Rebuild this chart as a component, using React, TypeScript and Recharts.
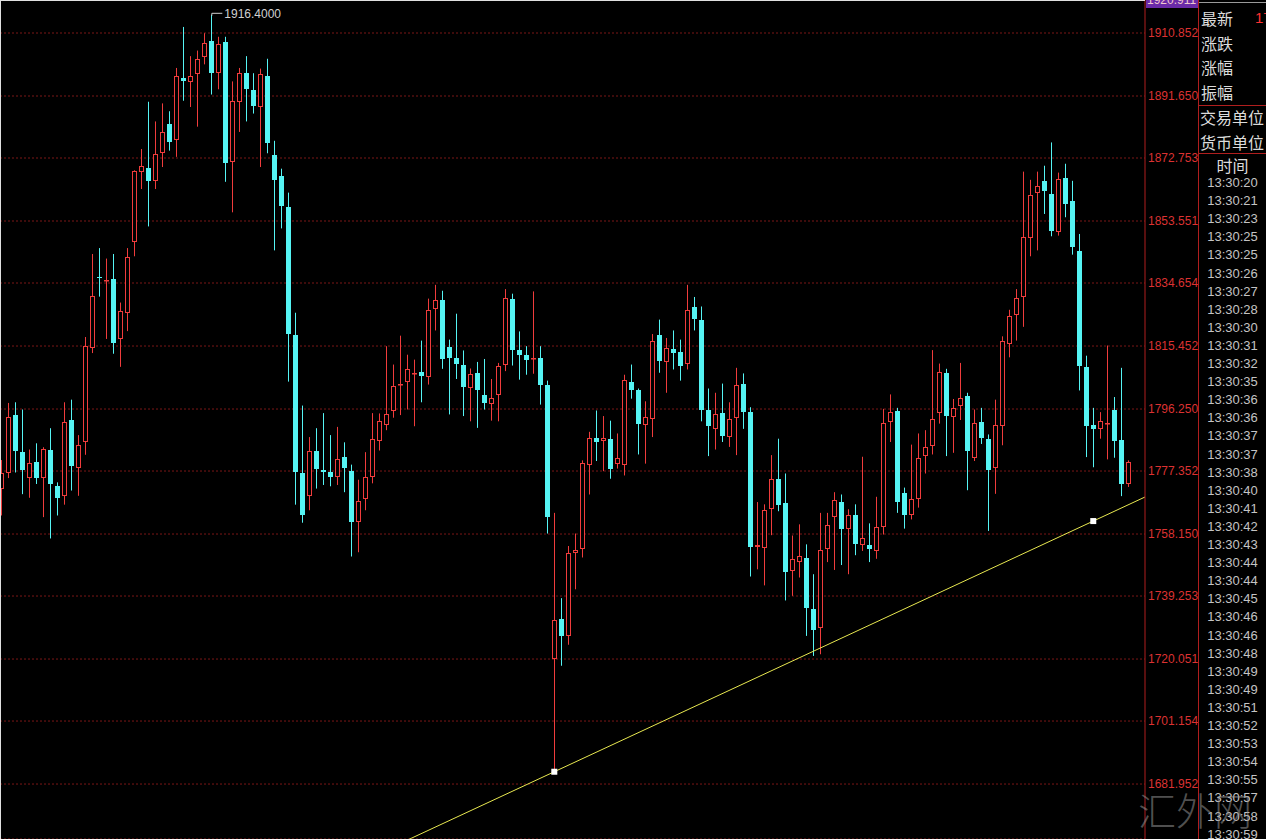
import React from 'react';
import {
  ComposedChart,
  Bar,
  XAxis,
  YAxis,
  CartesianGrid,
  ReferenceLine,
  ReferenceDot,
} from 'recharts';

// candle values, one entry per bar (left to right)
const opens = [
  1771.8, 1776.9, 1794.3, 1783.2, 1775.2, 1780.1, 1775.2, 1783.9, 1772.7, 1769.6,
  1792.9, 1778.3, 1786.1, 1814.9, 1836.5, 1835.2, 1835.9, 1817.6, 1825.6, 1847.2,
  1868.4, 1869.8, 1865.7, 1874.2, 1883.1, 1878.2, 1897.2, 1895.9, 1898.3, 1903.5,
  1908.4, 1898.8, 1908.2, 1871.4, 1889.7, 1898.6, 1893.5, 1888.3, 1897.8, 1873.6,
  1867.3, 1857.8, 1818.7, 1776.9, 1769.6, 1783.6, 1777.6, 1777.2, 1775.6, 1781.7,
  1777.4, 1761.9, 1768.7, 1775.6, 1786.4, 1791.3, 1795.6, 1803.5, 1804.4, 1806.8,
  1807.6, 1806.0, 1826.7, 1829.6, 1815.2, 1811.8, 1809.8, 1802.7, 1807.2, 1800.5,
  1797.8, 1800.4, 1809.8, 1829.9, 1814.1, 1812.8, 1811.4, 1811.8, 1803.7, 1720.2,
  1732.2, 1727.1, 1752.5, 1753.7, 1779.2, 1787.5, 1786.5, 1787.2, 1779.6, 1779.2,
  1804.5, 1801.9, 1791.3, 1793.3, 1818.9, 1810.6, 1814.4, 1813.6, 1810.0, 1827.4,
  1823.5, 1795.8, 1790.2, 1795.1, 1787.7, 1793.6, 1803.9, 1795.4, 1754.3, 1754.0,
  1765.7, 1774.8, 1767.5, 1746.9, 1749.7, 1750.7, 1735.2, 1729.6, 1753.7, 1763.4,
  1768.0, 1759.8, 1764.1, 1754.8, 1754.7, 1753.0, 1760.4, 1792.2, 1795.6, 1770.7,
  1763.8, 1768.9, 1781.9, 1784.9, 1794.9, 1807.1, 1793.8, 1797.1, 1800.2, 1781.2,
  1792.3, 1787.0, 1778.3, 1791.0, 1816.1, 1824.8, 1830.4, 1848.4, 1862.1, 1865.8,
  1861.8, 1850.1, 1866.6, 1859.7, 1844.5, 1809.1, 1791.5, 1790.2, 1791.9, 1795.8,
  1786.7, 1773.5,
];
const highs = [
  1780.7, 1798.1, 1798.3, 1796.1, 1783.9, 1785.8, 1784.6, 1790.4, 1773.9, 1798.3,
  1799.1, 1788.3, 1818.2, 1843.5, 1845.3, 1842.1, 1843.5, 1828.7, 1845.3, 1869.0,
  1875.5, 1889.9, 1883.9, 1889.4, 1887.0, 1900.2, 1912.7, 1903.8, 1905.5, 1910.8,
  1916.4, 1909.7, 1909.7, 1896.1, 1900.2, 1903.8, 1898.6, 1900.0, 1903.0, 1878.0,
  1869.5, 1862.2, 1825.6, 1797.3, 1787.7, 1790.4, 1795.0, 1788.3, 1790.8, 1786.1,
  1779.3, 1774.7, 1783.1, 1795.0, 1794.9, 1815.4, 1809.8, 1818.6, 1812.8, 1811.3,
  1817.1, 1829.9, 1834.1, 1832.3, 1817.4, 1825.3, 1814.1, 1808.6, 1810.6, 1811.5,
  1805.4, 1810.3, 1832.8, 1831.4, 1819.9, 1815.4, 1832.1, 1815.4, 1804.9, 1764.6,
  1738.6, 1754.5, 1758.3, 1780.6, 1789.3, 1795.8, 1794.1, 1792.7, 1788.8, 1806.7,
  1809.8, 1802.5, 1798.6, 1819.1, 1823.5, 1817.9, 1820.2, 1817.4, 1834.1, 1830.4,
  1827.5, 1802.5, 1801.2, 1804.0, 1798.3, 1808.8, 1807.1, 1796.8, 1767.9, 1767.2,
  1782.2, 1787.2, 1776.6, 1757.7, 1761.1, 1755.0, 1745.9, 1764.6, 1764.6, 1770.9,
  1770.2, 1765.7, 1767.2, 1781.7, 1761.4, 1769.5, 1796.3, 1800.7, 1796.6, 1772.3,
  1785.4, 1788.8, 1789.8, 1814.2, 1810.1, 1808.5, 1799.3, 1810.3, 1801.2, 1796.1,
  1796.6, 1788.5, 1799.1, 1818.4, 1826.5, 1832.8, 1868.6, 1866.1, 1868.6, 1870.4,
  1877.5, 1868.3, 1871.0, 1865.8, 1849.6, 1812.5, 1796.6, 1795.3, 1815.6, 1799.9,
  1808.8, 1780.6,
];
const lows = [
  1763.8, 1775.2, 1776.9, 1770.3, 1769.2, 1773.4, 1763.3, 1756.8, 1763.8, 1767.1,
  1771.4, 1769.8, 1782.3, 1813.3, 1830.5, 1817.6, 1813.1, 1809.1, 1820.0, 1842.8,
  1863.3, 1851.9, 1863.3, 1870.0, 1875.0, 1873.1, 1890.2, 1888.3, 1882.3, 1901.3,
  1892.1, 1893.7, 1865.5, 1856.2, 1880.7, 1883.9, 1886.3, 1870.0, 1874.2, 1844.6,
  1851.3, 1804.6, 1767.1, 1761.6, 1765.4, 1772.0, 1773.1, 1772.7, 1773.1, 1770.9,
  1751.3, 1752.6, 1765.4, 1773.6, 1783.6, 1789.8, 1793.6, 1794.4, 1796.1, 1791.0,
  1798.3, 1803.7, 1820.2, 1808.5, 1794.6, 1805.4, 1794.1, 1792.5, 1790.5, 1796.1,
  1792.7, 1792.5, 1807.8, 1809.5, 1805.2, 1806.7, 1807.0, 1797.6, 1758.3, 1685.7,
  1718.0, 1724.4, 1741.3, 1751.0, 1770.2, 1780.4, 1777.3, 1775.0, 1778.1, 1776.0,
  1799.4, 1782.4, 1779.6, 1787.7, 1807.3, 1801.2, 1808.3, 1804.9, 1808.3, 1820.2,
  1792.5, 1781.9, 1783.9, 1786.2, 1784.7, 1782.2, 1790.2, 1745.2, 1747.4, 1742.5,
  1757.8, 1765.1, 1737.9, 1739.3, 1744.9, 1727.1, 1721.0, 1721.5, 1749.6, 1747.2,
  1748.7, 1745.9, 1751.7, 1753.0, 1749.6, 1750.6, 1758.0, 1786.2, 1764.6, 1759.8,
  1762.6, 1766.2, 1776.6, 1782.4, 1791.8, 1781.9, 1782.9, 1792.9, 1771.5, 1780.4,
  1785.6, 1759.1, 1770.4, 1785.2, 1812.0, 1817.1, 1821.3, 1842.8, 1844.6, 1855.7,
  1848.9, 1849.1, 1854.7, 1843.3, 1801.9, 1781.6, 1778.5, 1787.2, 1780.9, 1781.4,
  1769.7, 1772.5,
];
const closes = [
  1776.9, 1793.7, 1783.4, 1777.7, 1779.9, 1775.2, 1784.2, 1773.4, 1769.0, 1792.4,
  1778.8, 1785.3, 1815.5, 1830.7, 1836.1, 1835.6, 1816.3, 1826.1, 1842.6, 1868.7,
  1870.2, 1865.7, 1873.9, 1880.7, 1877.7, 1897.9, 1896.1, 1897.9, 1902.9, 1907.9,
  1898.8, 1907.5, 1871.1, 1890.1, 1898.6, 1893.7, 1888.6, 1898.4, 1877.2, 1866.2,
  1858.1, 1819.0, 1777.1, 1763.8, 1783.4, 1777.9, 1777.2, 1775.6, 1780.9, 1778.3,
  1761.9, 1768.2, 1775.4, 1787.2, 1792.5, 1794.8, 1803.4, 1803.9, 1808.3, 1807.2,
  1806.2, 1826.5, 1829.6, 1811.5, 1811.8, 1810.0, 1802.9, 1806.9, 1802.0, 1798.1,
  1799.6, 1809.3, 1830.1, 1814.2, 1812.8, 1811.3, 1811.8, 1803.7, 1763.3, 1731.9,
  1727.1, 1752.5, 1753.3, 1779.7, 1787.5, 1786.2, 1787.4, 1778.1, 1781.4, 1805.2,
  1802.0, 1791.8, 1793.8, 1817.1, 1810.8, 1814.7, 1813.4, 1809.5, 1826.5, 1823.8,
  1795.9, 1791.0, 1794.8, 1788.0, 1793.2, 1803.7, 1795.3, 1754.3, 1754.7, 1765.5,
  1775.0, 1766.9, 1746.6, 1750.4, 1751.4, 1735.5, 1728.9, 1753.2, 1760.8, 1768.5,
  1759.8, 1764.1, 1755.0, 1757.0, 1753.7, 1760.4, 1792.0, 1795.4, 1767.9, 1764.1,
  1768.7, 1781.4, 1784.7, 1793.1, 1807.6, 1794.1, 1796.6, 1799.6, 1783.4, 1792.0,
  1787.3, 1777.6, 1791.5, 1817.1, 1824.7, 1830.1, 1848.7, 1861.5, 1864.3, 1862.6,
  1850.4, 1866.3, 1858.8, 1845.5, 1809.3, 1791.0, 1790.2, 1792.6, 1792.1, 1786.5,
  1773.5, 1780.1,
];

const priceTicks = [
  1910.852, 1891.65, 1872.753, 1853.551, 1834.654, 1815.452, 1796.25,
  1777.352, 1758.15, 1739.253, 1720.051, 1701.154, 1681.952,
];
const topPrice = 1920.911;
const highestPrice = 1916.4;
const highestIndex = 30;

// two anchors of the hand-drawn trend line
const trendIndex = [79, 156];
const trendPrice = [1685.7, 1762.1];

const quoteLabels = ['最新', '涨跌', '涨幅', '振幅'];
const unitLabels = ['交易单位', '货币单位'];
const tradeTimes = [
  '13:30:20', '13:30:21', '13:30:23', '13:30:25', '13:30:25', '13:30:26', '13:30:27',
  '13:30:28', '13:30:30', '13:30:31', '13:30:32', '13:30:35', '13:30:36', '13:30:36',
  '13:30:37', '13:30:37', '13:30:38', '13:30:40', '13:30:41', '13:30:42', '13:30:43',
  '13:30:44', '13:30:44', '13:30:45', '13:30:46', '13:30:46', '13:30:48', '13:30:49',
  '13:30:49', '13:30:51', '13:30:52', '13:30:53', '13:30:54', '13:30:55', '13:30:57',
  '13:30:58', '13:30:59',
];

const candles = opens.map((o, i) => ({
  i,
  open: o,
  high: highs[i],
  low: lows[i],
  close: closes[i],
}));

const RED = '#f03c3c';
const CYAN = '#55f4f4';
const AXIS_RED = '#b01e1e';
const X_MIN = -0.19;
const X_MAX = 163.39;
const Y_MIN = 1665.2;

const slope = (trendPrice[1] - trendPrice[0]) / (trendIndex[1] - trendIndex[0]);
const trendSegment = [
  { x: X_MIN, y: trendPrice[0] + (X_MIN - trendIndex[0]) * slope },
  { x: X_MAX, y: trendPrice[0] + (X_MAX - trendIndex[0]) * slope },
];

function Candle(props: any) {
  const { x, y, width, height, payload } = props;
  if (!payload) return null;
  const { open, close, high, low } = payload;
  const top = Math.min(y, y + height);
  const bottom = Math.max(y, y + height);
  const ppu = (bottom - top) / (high - low || 1);
  const py = (v: number) => top + (high - v) * ppu;
  const up = close >= open;
  const color = up ? RED : CYAN;
  const cx = Math.floor(x + width / 2);
  const bTop = Math.round(py(Math.max(open, close)));
  const bBot = Math.max(Math.round(py(Math.min(open, close))), bTop + 1);
  const left = cx - 2;
  return (
    <g>
      <line x1={cx + 0.5} x2={cx + 0.5} y1={top} y2={bTop} stroke={color} strokeWidth={1} />
      <line x1={cx + 0.5} x2={cx + 0.5} y1={bBot} y2={bottom} stroke={color} strokeWidth={1} />
      {up ? (
        <rect x={left + 0.5} y={bTop + 0.5} width={4} height={Math.max(bBot - bTop - 1, 0.5)} fill="#000" stroke={color} strokeWidth={1} />
      ) : (
        <rect x={left} y={bTop} width={5} height={bBot - bTop} fill={color} />
      )}
    </g>
  );
}

export default function App() {
  return (
    <div
      style={{
        position: 'fixed',
        left: 0,
        top: 0,
        width: 1266,
        height: 839,
        background: '#000',
        overflow: 'hidden',
        fontFamily: '"Liberation Sans", Arial, sans-serif',
      }}
    >
      <ComposedChart
        width={1198}
        height={839}
        data={candles}
        margin={{ top: 0, right: 0, bottom: 0, left: 0 }}
      >
        <CartesianGrid horizontal vertical={false} stroke="#7a1616" strokeDasharray="2 2" />
        <XAxis
          type="number"
          dataKey="i"
          domain={[X_MIN, X_MAX]}
          allowDataOverflow
          hide
        />
        <YAxis
          orientation="right"
          width={53}
          domain={[Y_MIN, topPrice]}
          allowDataOverflow
          ticks={priceTicks}
          interval={0}
          tickFormatter={(v) => Number(v).toFixed(3)}
          tick={{ fill: '#dc3232', fontSize: 12, fontFamily: '"Liberation Sans", Arial, sans-serif' }}
          tickSize={0}
          tickMargin={3}
          axisLine={{ stroke: AXIS_RED }}
          tickLine={false}
        />
        <Bar
          dataKey={(d: any) => [d.low, d.high]}
          barSize={5}
          shape={<Candle />}
          isAnimationActive={false}
        />
        <ReferenceLine
          segment={trendSegment}
          stroke="#e8e850"
          strokeWidth={1}
          ifOverflow="hidden"
        />
        {trendIndex.map((ti, k) => (
          <ReferenceDot
            key={ti}
            x={ti}
            y={trendPrice[k]}
            r={3}
            ifOverflow="hidden"
            shape={(p: any) => (
              <rect x={p.cx - 3} y={p.cy - 3} width={6} height={6} fill="#ffffff" />
            )}
          />
        ))}
        <ReferenceDot
          x={highestIndex}
          y={highestPrice}
          r={1}
          shape={(p: any) => (
            <g>
              <path d={`M${p.cx + 0.5},${p.cy + 1} L${p.cx + 0.5},${p.cy - 1.5} L${p.cx + 11},${p.cy - 1.5}`} stroke="#d0d0d0" fill="none" />
              <text x={p.cx + 13} y={p.cy - 1.5} dy="0.35em" fill="#d0d0d0" fontSize={12}>
                {highestPrice.toFixed(4)}
              </text>
            </g>
          )}
        />
      </ComposedChart>

      {/* frame lines */}
      <div style={{ position: 'absolute', left: 0, top: 0, width: 1145, height: 1, background: '#e0e0e0' }} />
      <div style={{ position: 'absolute', left: 0, top: 0, width: 1, height: 839, background: '#e0e0e0' }} />

      {/* top price box */}
      <div
        style={{
          position: 'absolute',
          left: 1146,
          top: 0,
          width: 52,
          height: 8,
          background: '#6a2aa8',
          overflow: 'hidden',
        }}
      >
        <div style={{ position: 'absolute', left: 1, top: -7, fontSize: 12, lineHeight: '14px', color: '#f0c8d0' }}>
          {topPrice.toFixed(3)}
        </div>
      </div>

      {/* right info panel */}
      <div style={{ position: 'absolute', left: 1198, top: 0, width: 1, height: 839, background: AXIS_RED }} />
      <div style={{ position: 'absolute', left: 1199, top: 2, width: 67, height: 1, background: '#9a9a9a' }} />
      <div style={{ position: 'absolute', left: 1198, top: 105, width: 68, height: 1, background: AXIS_RED }} />
      <div style={{ position: 'absolute', left: 1198, top: 153, width: 68, height: 1, background: AXIS_RED }} />
      {quoteLabels.map((t, k) => (
        <div
          key={t}
          style={{
            position: 'absolute',
            left: 1201,
            top: 6 + k * 24.5,
            fontSize: 16,
            lineHeight: '24px',
            color: '#dcdcdc',
            fontFamily: '"Noto Sans CJK SC", sans-serif',
            whiteSpace: 'nowrap',
          }}
        >
          {t}
        </div>
      ))}
      <div
        style={{
          position: 'absolute',
          left: 1255,
          top: 6,
          fontSize: 15,
          lineHeight: '24px',
          color: '#ff3030',
          whiteSpace: 'nowrap',
        }}
      >
        {closes[closes.length - 1].toFixed(2)}
      </div>
      {unitLabels.map((t, k) => (
        <div
          key={t}
          style={{
            position: 'absolute',
            left: 1200,
            top: 105 + k * 24.5,
            fontSize: 16,
            lineHeight: '24px',
            color: '#dcdcdc',
            fontFamily: '"Noto Sans CJK SC", sans-serif',
            whiteSpace: 'nowrap',
          }}
        >
          {t}
        </div>
      ))}
      <div
        style={{
          position: 'absolute',
          left: 1199,
          width: 67,
          top: 154,
          textAlign: 'center',
          fontSize: 16,
          lineHeight: '22px',
          color: '#dcdcdc',
          fontFamily: '"Noto Sans CJK SC", sans-serif',
        }}
      >
        时间
      </div>
      {tradeTimes.map((t, k) => (
        <div
          key={k}
          style={{
            position: 'absolute',
            left: 1199,
            width: 67,
            top: 174 + k * 18.1,
            textAlign: 'center',
            fontSize: 13,
            lineHeight: '18px',
            color: '#c4c4c4',
          }}
        >
          {t}
        </div>
      ))}

      {/* watermark */}
      <div
        style={{
          position: 'absolute',
          left: 1138,
          top: 784,
          fontSize: 38,
          lineHeight: '50px',
          color: 'rgba(150,150,150,0.55)',
          fontFamily: '"Noto Sans CJK SC", sans-serif',
          fontWeight: 300,
          whiteSpace: 'nowrap',
        }}
      >
        汇外网
      </div>
    </div>
  );
}
